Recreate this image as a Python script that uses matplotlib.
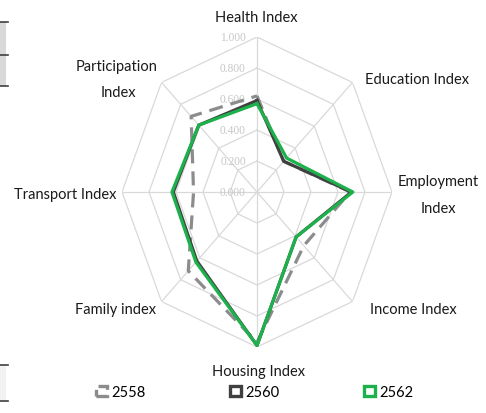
import numpy as np
import matplotlib
matplotlib.use('Agg')
import matplotlib.pyplot as plt
import matplotlib.patches as mpatches
from matplotlib.transforms import offset_copy

categories = ['Health Index', 'Education Index', 'Employment Index', 'Income Index',
              'Housing Index', 'Family index', 'Transport Index', 'Participation Index']
v2558 = [0.62, 0.28, 0.69, 0.49, 0.97, 0.72, 0.47, 0.69]
v2560 = [0.59, 0.28, 0.70, 0.41, 0.99, 0.63, 0.62, 0.61]
v2562 = [0.57, 0.31, 0.71, 0.41, 0.99, 0.64, 0.63, 0.61]
rticks = [0.0, 0.2, 0.4, 0.6, 0.8, 1.0]
rlabels = ['0.000', '0.200', '0.400', '0.600', '0.800', '1.000']

W, H = 486, 414
fig = plt.figure(figsize=(W/100, H/100), dpi=100)

def px(x, y):
    return x/W, 1 - y/H

# polar axes, stretched (aspect auto) like the original
cx, cy, rx, ry = 257, 193, 135, 155
ax = fig.add_axes([(cx-rx)/W, 1-(cy+ry)/H, 2*rx/W, 2*ry/H], projection='polar')
ax.set_aspect('auto')
ax.set_theta_zero_location('N')
ax.set_theta_direction(-1)
ax.set_ylim(0, 1)
ax.grid(False)
ax.set_xticks([])
ax.set_yticks([])
ax.spines['polar'].set_visible(False)

n = len(categories)
ang = np.linspace(0, 2*np.pi, n, endpoint=False)
ang_c = np.append(ang, ang[0])

gc = '#d9d9d9'
for r in rticks[1:]:
    ax.plot(ang_c, [r]*(n+1), color=gc, lw=0.9, zorder=1)
for a in ang:
    ax.plot([a, a], [0, 1], color=gc, lw=0.9, zorder=1)

lbl_tr = offset_copy(ax.transData, fig=fig, x=-8, y=0, units='points')
for r, t in zip(rticks, rlabels):
    ax.text(0, r, t, transform=lbl_tr, ha='right', va='center', fontsize=8.3,
            family='Liberation Serif', color='#c8c8c8', zorder=2)

def close(v):
    return list(v) + [v[0]]

ax.plot(ang_c, close(v2558), color='#8c8c8c', lw=2.3, dashes=(4.4, 2.5), zorder=3)
ax.plot(ang_c, close(v2560), color='#404040', lw=2.3, zorder=4)
ax.plot(ang_c, close(v2562), color='#1db14b', lw=2.3, zorder=5)

fs = 10.5
fam = 'Lato'
def lab(x, y, s):
    fig.text(*px(x, y), s, ha='center', va='center', fontsize=fs, family=fam, color='#1a1a1a')

lab(256, 18, 'Health Index')
lab(417, 80, 'Education Index')
lab(438, 182, 'Employment')
lab(438, 209, 'Index')
lab(413, 310, 'Income Index')
lab(258, 372, 'Housing Index')
lab(115, 310, 'Family index')
lab(65, 195, 'Transport Index')
lab(117, 67, 'Participation')
lab(118, 93, 'Index')

handles = [
    mpatches.Rectangle((0, 0), 1, 1, facecolor='white', edgecolor='#8c8c8c', lw=2.4, linestyle='--'),
    mpatches.Rectangle((0, 0), 1, 1, facecolor='white', edgecolor='#404040', lw=2.4),
    mpatches.Rectangle((0, 0), 1, 1, facecolor='white', edgecolor='#1db14b', lw=2.4),
]
leg = fig.legend(handles, ['2558', '2560', '2562'], ncol=3, loc='center',
                 bbox_to_anchor=px(255, 393), frameon=False,
                 handlelength=0.75, handleheight=0.75, handletextpad=0.3,
                 columnspacing=5.8, prop={'family': fam, 'size': fs})

# cropped table fragments at the left edge
fig.patches.append(mpatches.Rectangle(px(0, 87), 6/W, 64/H, transform=fig.transFigure,
                                      facecolor='#d9d9d9', edgecolor='none'))
fig.patches.append(mpatches.Rectangle(px(0, 402), 6/W, 36/H, transform=fig.transFigure,
                                      facecolor='#f2f2f2', edgecolor='none'))
for yy in [23, 56, 87, 366, 402]:
    fig.lines.append(plt.Line2D([0, 8/W], [1-yy/H]*2, transform=fig.transFigure,
                                color='#404040', lw=1.2))

fig.savefig('out.png', dpi=100)
